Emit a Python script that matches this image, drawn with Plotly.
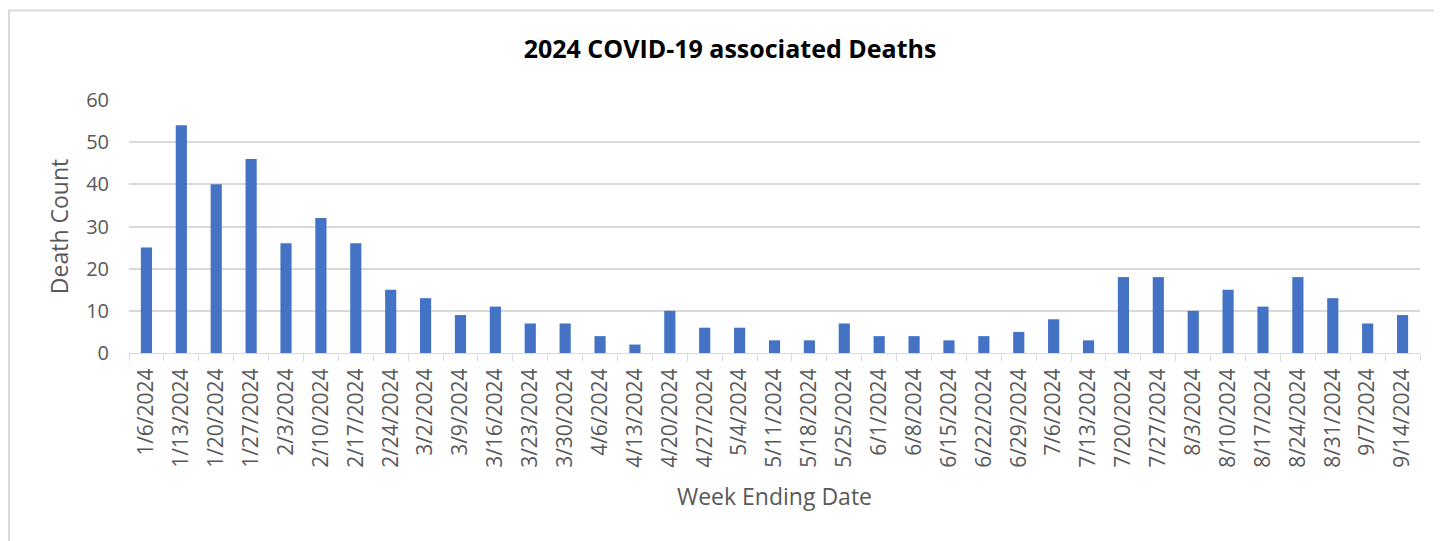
import plotly.graph_objects as go

weeks = ["1/6/2024", "1/13/2024", "1/20/2024", "1/27/2024", "2/3/2024", "2/10/2024",
         "2/17/2024", "2/24/2024", "3/2/2024", "3/9/2024", "3/16/2024", "3/23/2024",
         "3/30/2024", "4/6/2024", "4/13/2024", "4/20/2024", "4/27/2024", "5/4/2024",
         "5/11/2024", "5/18/2024", "5/25/2024", "6/1/2024", "6/8/2024", "6/15/2024",
         "6/22/2024", "6/29/2024", "7/6/2024", "7/13/2024", "7/20/2024", "7/27/2024",
         "8/3/2024", "8/10/2024", "8/17/2024", "8/24/2024", "8/31/2024", "9/7/2024",
         "9/14/2024"]
deaths = [25, 54, 40, 46, 26, 32, 26, 15, 13, 9, 11, 7, 7, 4, 2, 10, 6, 6, 3, 3, 7,
          4, 4, 3, 4, 5, 8, 3, 18, 18, 10, 15, 11, 18, 13, 7, 9]
y_ticks = [0, 10, 20, 30, 40, 50, 60]

FONT = "Open Sans"
GRAY = "#595959"
GRID = "#d9d9d9"

fig = go.Figure(go.Bar(x=weeks, y=deaths, marker=dict(color="#4472C4", line=dict(width=0)),
                       width=0.32))

# page body has an 8px margin, so figure coords = screen coords - 8
L, R, T, B = 121, 30, 92, 196
W, H = 1442, 541
pw = W - L - R
ph = H - T - B

def px_x(x):
    return (x - L) / pw

def px_y(y):
    return (H - B - y) / ph

fig.update_layout(
    width=W, height=H,
    margin=dict(l=L, r=R, t=T, b=B, autoexpand=False),
    paper_bgcolor="white", plot_bgcolor="white",
    showlegend=False,
    title=dict(text="<b>2024 COVID-19 associated Deaths</b>", x=722 / W, xanchor="center",
               xref="container", y=1 - 41 / H, yanchor="middle",
               font=dict(family=FONT, size=25, color="black")),
    font=dict(family=FONT, color=GRAY),
    xaxis=dict(type="category", tickangle=-90, tickfont=dict(size=21, color=GRAY),
               showline=True, linecolor=GRID, linewidth=1,
               ticks="outside", tickson="boundaries", ticklen=7, tickcolor=GRID,
               showgrid=False, ticklabelstandoff=6,
               title=dict(text="Week Ending Date", font=dict(size=23, color=GRAY), standoff=22)),
    yaxis=dict(range=[0, 60], tickvals=y_ticks, tickfont=dict(size=20, color=GRAY),
               showgrid=True, gridcolor=GRID, gridwidth=1.5, zeroline=False,
               showline=False, ticklabelstandoff=19,
               title=dict(text="Death Count", font=dict(size=23, color=GRAY), standoff=11)),
    shapes=[dict(type="rect", xref="paper", yref="paper",
                 x0=px_x(1), x1=px_x(1500), y0=px_y(700), y1=px_y(2.5),
                 line=dict(color=GRID, width=2), fillcolor="rgba(0,0,0,0)", layer="below")],
)

fig.write_html("out.html")
